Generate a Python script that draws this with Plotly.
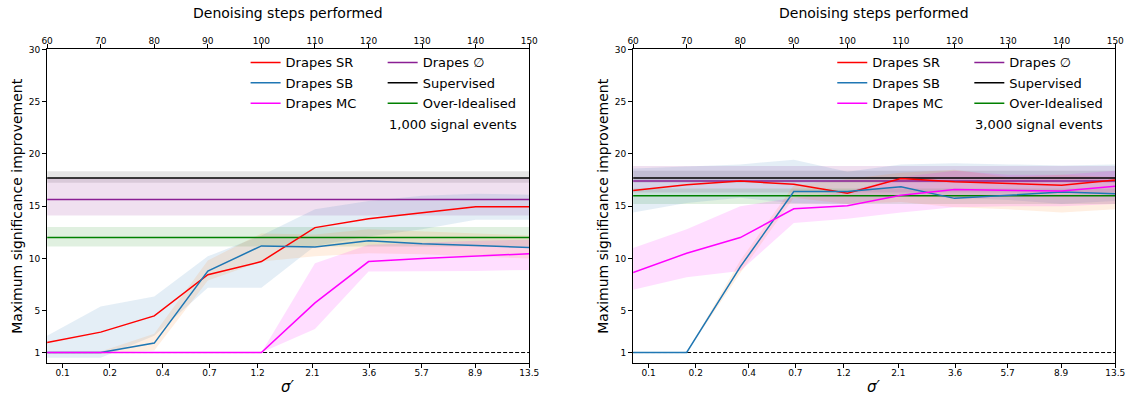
import plotly.graph_objects as go

# ---------------- data ----------------
steps = [60, 70, 80, 90, 100, 110, 120, 130, 140, 150]
step_ticks = [60, 70, 80, 90, 100, 110, 120, 130, 140, 150]
sigma_labels = ["0.1", "0.2", "0.4", "0.7", "1.2", "2.1", "3.6", "5.7", "8.9", "13.5"]
sigma_tick_steps = [62.9, 71.7, 81.6, 90.3, 99.3, 109.5, 120.1, 129.9, 139.9, 150]
y_ticks = [1, 5, 10, 15, 20, 25, 30]

# 1,000 signal events
sr_1k = [1.95, 2.95, 4.5, 8.45, 9.7, 12.95, 13.8, 14.4, 14.95, 14.95]
sr_1k_lo = [0.5, 0.5, 2.6, 7.2, 7.2, 11.2, 12.1, 12.8, 13.7, 13.7]
sr_1k_hi = [2.6, 5.4, 6.35, 10.2, 12.2, 14.7, 15.5, 16.0, 16.2, 16.1]
sb_1k = [1.0, 1.0, 1.9, 8.8, 11.2, 11.1, 11.7, 11.4, 11.25, 11.05]
sb_1k_lo = [0.9, 0.9, 1.2, 7.9, 9.7, 10.2, 10.5, 10.4, 10.2, 10.0]
sb_1k_hi = [1.1, 1.1, 2.8, 9.8, 12.4, 12.3, 12.8, 12.6, 12.4, 12.2]
mc_1k = [1.0, 1.0, 1.0, 1.0, 1.0, 5.75, 9.7, 10.0, 10.2, 10.45]
mc_1k_lo = [1.0, 1.0, 1.0, 1.0, 1.0, 3.25, 8.75, 8.75, 8.8, 8.9]
mc_1k_hi = [1.0, 1.0, 1.0, 1.0, 1.0, 9.55, 11.3, 11.5, 11.7, 11.8]
null_1k, null_1k_lo, null_1k_hi = 15.65, 14.1, 17.7
sup_1k, sup_1k_lo, sup_1k_hi = 17.7, 17.25, 18.35
oi_1k, oi_1k_lo, oi_1k_hi = 12.0, 11.15, 13.0

# 3,000 signal events
sr_3k = [16.5, 17.05, 17.4, 17.1, 16.25, 17.65, 17.35, 17.2, 17.0, 17.5]
sr_3k_lo = [14.4, 15.3, 15.8, 15.3, 15.2, 16.0, 15.8, 15.6, 15.2, 15.5]
sr_3k_hi = [18.6, 18.8, 19.0, 19.45, 18.3, 19.0, 19.1, 19.0, 18.9, 19.0]
sb_3k = [1.0, 1.0, 9.2, 16.4, 16.4, 16.85, 15.75, 16.05, 16.35, 16.2]
sb_3k_lo = [1.0, 1.0, 8.6, 15.8, 15.2, 15.4, 14.9, 14.7, 14.4, 14.7]
sb_3k_hi = [1.0, 1.0, 9.8, 17.0, 17.6, 18.2, 18.5, 17.8, 18.0, 17.8]
mc_3k = [8.65, 10.5, 12.0, 14.75, 15.05, 16.05, 16.6, 16.5, 16.45, 16.9]
mc_3k_lo = [7.0, 8.2, 8.8, 13.4, 13.8, 14.4, 14.9, 15.0, 15.0, 15.2]
mc_3k_hi = [11.0, 12.8, 15.0, 15.8, 16.4, 17.8, 18.4, 18.0, 18.0, 18.4]
null_3k, null_3k_lo, null_3k_hi = 17.4, 16.3, 18.85
sup_3k, sup_3k_lo, sup_3k_hi = 17.7, 17.25, 18.4
oi_3k, oi_3k_lo, oi_3k_hi = 16.0, 15.2, 16.7

baseline = 1.0
panel_labels = ["1,000 signal events", "3,000 signal events"]

# ---------------- styles ----------------
FONT = "DejaVu Sans"
C_SR, C_SB, C_MC = "#ff0000", "#1f77b4", "#ff00ff"
C_NULL, C_SUP, C_OI = "#8a1f94", "#000000", "#008000"
F_SR = "rgba(31,119,180,0.12)"     # band colours as drawn in the reference
F_SB = "rgba(255,127,14,0.12)"
F_MC = "rgba(255,0,255,0.13)"
F_NULL = "rgba(128,0,128,0.12)"
F_SUP = "rgba(0,0,0,0.10)"
F_OI = "rgba(0,128,0,0.12)"
LW = 1.5

fig = go.Figure()


def band(xa, ya, lo, hi, fill):
    fig.add_trace(go.Scatter(
        x=steps + steps[::-1], y=list(hi) + list(lo)[::-1],
        fill="toself", fillcolor=fill, line=dict(width=0),
        mode="lines", showlegend=False, hoverinfo="skip",
        xaxis=xa, yaxis=ya))


def line(xa, ya, y, color, name, legend):
    fig.add_trace(go.Scatter(
        x=steps, y=y, mode="lines", line=dict(color=color, width=LW),
        name=name, legend=legend, showlegend=True, legendgroup=name + legend,
        xaxis=xa, yaxis=ya))


panels = [
    dict(xa="x", ya="y", xt="x3", legs=("legend", "legend2"),
         sr=(sr_1k, sr_1k_lo, sr_1k_hi), sb=(sb_1k, sb_1k_lo, sb_1k_hi),
         mc=(mc_1k, mc_1k_lo, mc_1k_hi),
         null=(null_1k, null_1k_lo, null_1k_hi), sup=(sup_1k, sup_1k_lo, sup_1k_hi),
         oi=(oi_1k, oi_1k_lo, oi_1k_hi)),
    dict(xa="x2", ya="y2", xt="x4", legs=("legend3", "legend4"),
         sr=(sr_3k, sr_3k_lo, sr_3k_hi), sb=(sb_3k, sb_3k_lo, sb_3k_hi),
         mc=(mc_3k, mc_3k_lo, mc_3k_hi),
         null=(null_3k, null_3k_lo, null_3k_hi), sup=(sup_3k, sup_3k_lo, sup_3k_hi),
         oi=(oi_3k, oi_3k_lo, oi_3k_hi)),
]

n = len(steps)
for p in panels:
    xa, ya = p["xa"], p["ya"]
    l1, l2 = p["legs"]
    # bands
    v, lo, hi = p["sup"]; band(xa, ya, [lo] * n, [hi] * n, F_SUP)
    v, lo, hi = p["null"]; band(xa, ya, [lo] * n, [hi] * n, F_NULL)
    v, lo, hi = p["oi"]; band(xa, ya, [lo] * n, [hi] * n, F_OI)
    band(xa, ya, p["sr"][1], p["sr"][2], F_SR)
    band(xa, ya, p["sb"][1], p["sb"][2], F_SB)
    band(xa, ya, p["mc"][1], p["mc"][2], F_MC)
    # dashed baseline
    fig.add_trace(go.Scatter(x=steps, y=[baseline] * n, mode="lines",
                             line=dict(color="black", width=1, dash="4px,2px"),
                             showlegend=False, hoverinfo="skip", xaxis=xa, yaxis=ya))
    # invisible trace so the top (denoising-steps) axis is drawn
    fig.add_trace(go.Scatter(x=steps, y=[baseline] * n, mode="lines",
                             line=dict(color="rgba(0,0,0,0)", width=0),
                             showlegend=False, hoverinfo="skip", xaxis=p["xt"], yaxis=ya))
    # lines
    line(xa, ya, [p["null"][0]] * n, C_NULL, "Drapes ∅", l2)
    line(xa, ya, [p["sup"][0]] * n, C_SUP, "Supervised", l2)
    line(xa, ya, [p["oi"][0]] * n, C_OI, "Over-Idealised", l2)
    line(xa, ya, p["sr"][0], C_SR, "Drapes SR", l1)
    line(xa, ya, p["sb"][0], C_SB, "Drapes SB", l1)
    line(xa, ya, p["mc"][0], C_MC, "Drapes MC", l1)

# ---------------- layout ----------------
W, H = 1143, 400
L1, R1 = 41.7, 530.7
L2, R2 = 636.0, 1125.0
TOP, BOT = 45.0, 362.5


def px(x):
    return x / W


def py(y):
    return 1 - y / H


tickfont = dict(family=FONT, size=9, color="black")
common_x = dict(range=[60, 150], showgrid=False, zeroline=False, showline=True,
                linecolor="black", linewidth=1.2, ticks="outside", ticklen=4,
                tickwidth=1, tickcolor="black", tickfont=tickfont, ticklabelstandoff=-3)
common_y = dict(range=[0, 30], showgrid=False, zeroline=False, showline=True,
                linecolor="black", linewidth=1.2, mirror=True, ticks="outside",
                ticklen=4, tickwidth=1, tickcolor="black", tickfont=tickfont,
                tickvals=y_ticks, ticktext=[str(t) for t in y_ticks])

layout = dict(
    width=W, height=H, margin=dict(l=0, r=0, t=0, b=0),
    paper_bgcolor="white", plot_bgcolor="white",
    font=dict(family=FONT, color="black"),
    xaxis=dict(common_x, domain=[px(L1), px(R1)], anchor="y",
               tickvals=sigma_tick_steps, ticktext=sigma_labels),
    xaxis2=dict(common_x, domain=[px(L2), px(R2)], anchor="y2",
                tickvals=sigma_tick_steps, ticktext=sigma_labels),
    xaxis3=dict(common_x, overlaying="x", side="top", anchor="y",
                tickvals=step_ticks, ticktext=[str(s) for s in step_ticks]),
    xaxis4=dict(common_x, overlaying="x2", side="top", anchor="y2",
                tickvals=step_ticks, ticktext=[str(s) for s in step_ticks]),
    yaxis=dict(common_y, domain=[py(BOT), py(TOP)], anchor="x"),
    yaxis2=dict(common_y, domain=[py(BOT), py(TOP)], anchor="x2"),
)

legfont = dict(family=FONT, size=13, color="black")
for name, xl in (("legend", 243), ("legend2", 382), ("legend3", 838), ("legend4", 977)):
    layout[name] = dict(x=px(xl), y=py(43), xanchor="left", yanchor="top",
                        bgcolor="rgba(0,0,0,0)", font=legfont, itemwidth=30,
                        tracegroupgap=0.5, traceorder="grouped")

annotations = []
for (l, r), lab in zip(((L1, R1), (L2, R2)), panel_labels):
    cx = (l + r) / 2
    annotations.append(dict(text="Denoising steps performed", x=px(cx), y=py(8),
                            xref="paper", yref="paper", showarrow=False,
                            font=dict(family=FONT, size=14), xanchor="center", yanchor="middle"))
    annotations.append(dict(text="<i>σ′</i>", x=px(cx), y=py(387),
                            xref="paper", yref="paper", showarrow=False,
                            font=dict(family=FONT, size=15), xanchor="center", yanchor="middle"))
    annotations.append(dict(text="Maximum significance improvement", x=px(l - 30), y=py((TOP + BOT) / 2),
                            xref="paper", yref="paper", showarrow=False, textangle=-90,
                            font=dict(family=FONT, size=14), xanchor="center", yanchor="middle"))
    annotations.append(dict(text=lab, x=px(r - 10), y=py(121),
                            xref="paper", yref="paper", showarrow=False,
                            font=dict(family=FONT, size=13), xanchor="right", yanchor="middle"))
layout["annotations"] = annotations

fig.update_layout(**layout)
fig.write_html("out.html")
